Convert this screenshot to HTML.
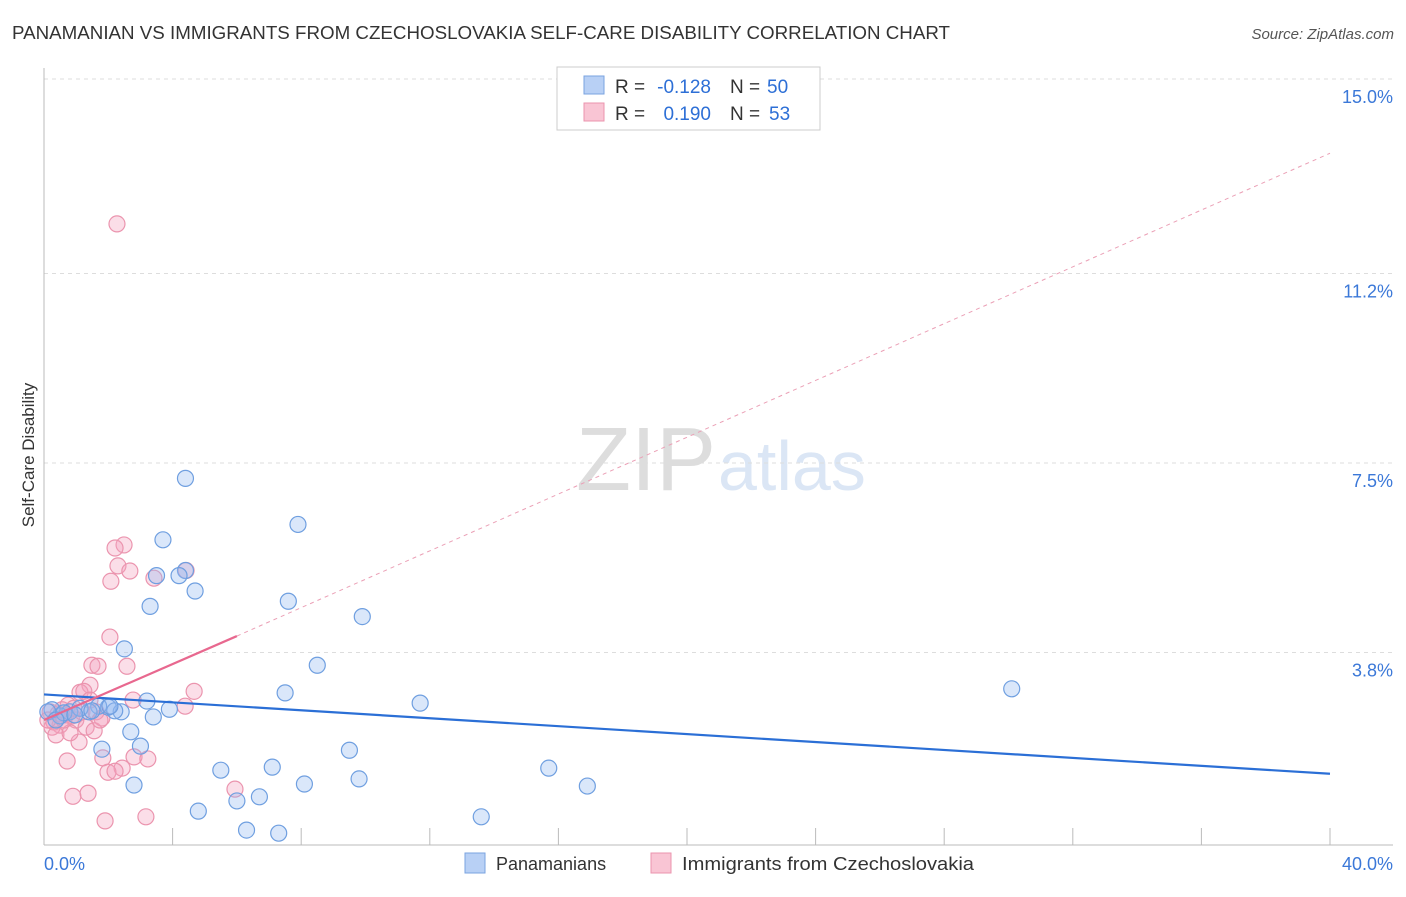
<!DOCTYPE html>
<html><head><meta charset="utf-8"><style>
body{margin:0;background:#fff;font-family:"Liberation Sans",sans-serif;}
svg text{font-family:"Liberation Sans",sans-serif;}
</style></head><body>
<svg id="chart" width="1406" height="892">
<text x="12" y="39" font-size="18" fill="#333" textLength="938" lengthAdjust="spacingAndGlyphs">PANAMANIAN VS IMMIGRANTS FROM CZECHOSLOVAKIA SELF-CARE DISABILITY CORRELATION CHART</text>
<text x="1394" y="39" font-size="15" fill="#555" text-anchor="end" font-style="italic">Source: ZipAtlas.com</text>
<text x="716" y="490" font-size="90" fill="#ddd" text-anchor="end" font-family="Liberation Serif">ZIP</text>
<text x="718" y="490" font-size="70" fill="#dbe6f5">atlas</text>
<g id="grid"></g>
<g id="axes"></g>
<g id="marks"></g>
<text transform="translate(34,455) rotate(-90)" font-size="17" fill="#333" text-anchor="middle">Self-Care Disability</text>
<g>
<rect x="557" y="67" width="263" height="63" fill="#fff" stroke="#ccc"/>
<rect x="584" y="76" width="20" height="18" fill="#b8d0f5" stroke="#7aa3e0"/>
<text x="615" y="93" font-size="19" fill="#333">R =</text>
<text x="711" y="93" font-size="19" fill="#2d6fd6" text-anchor="end">-0.128</text>
<text x="730" y="93" font-size="19" fill="#333">N =</text>
<text x="767" y="93" font-size="19" fill="#2d6fd6">50</text>
<rect x="584" y="103" width="20" height="18" fill="#f9c5d4" stroke="#eb94ae"/>
<text x="615" y="120" font-size="19" fill="#333">R =</text>
<text x="711" y="120" font-size="19" fill="#2d6fd6" text-anchor="end">0.190</text>
<text x="730" y="120" font-size="19" fill="#333">N =</text>
<text x="769" y="120" font-size="19" fill="#2d6fd6">53</text>
</g>
<g>
<rect x="465" y="853" width="20" height="20" fill="#b8d0f5" stroke="#7aa3e0"/>
<text x="496" y="870" font-size="18" fill="#333">Panamanians</text>
<rect x="651" y="853" width="20" height="20" fill="#f9c5d4" stroke="#eb94ae"/>
<text x="682" y="870" font-size="18" fill="#333" textLength="292" lengthAdjust="spacingAndGlyphs">Immigrants from Czechoslovakia</text>
</g>
</svg>
<script>
const yTicks=[3.8,7.5,11.2,15.0];
const yTickLabels=["3.8%","7.5%","11.2%","15.0%"];
const xTicks=[0,4,8,12,16,20,24,28,32,36,40];
const blueX=[4.4,7.9,3.7,4.4,4.2,3.5,4.7,7.6,3.3,9.9,2.5,8.5,30.1,7.5,3.2,11.7,3.9,3.4,2.0,2.4,2.2,1.7,1.4,0.8,0.5,0.25,0.12,2.7,3.0,1.8,9.5,5.5,7.1,15.7,9.8,8.1,2.8,16.9,6.0,6.7,4.8,13.6,6.3,7.3,0.62,1.12,1.49,0.37,0.96,2.05];
const blueY=[7.2,6.3,6.0,5.4,5.3,5.3,5.0,4.8,4.7,4.5,3.87,3.55,3.09,3.01,2.85,2.81,2.69,2.54,2.73,2.64,2.66,2.75,2.64,2.64,2.56,2.68,2.64,2.25,1.97,1.91,1.89,1.5,1.56,1.54,1.33,1.23,1.21,1.19,0.90,0.98,0.70,0.59,0.33,0.27,2.62,2.71,2.66,2.48,2.58,2.75];
const pinkX=[2.27,2.49,2.21,4.42,2.3,2.67,3.42,2.08,2.05,1.49,1.68,2.58,1.43,4.67,1.12,1.24,2.77,4.39,0.19,0.44,0.68,0.87,0.99,0.31,0.5,1.31,1.56,1.8,1.09,0.72,1.83,2.8,3.23,2.43,1.99,2.21,5.94,0.9,1.37,1.9,3.17,0.25,0.12,0.56,0.75,0.37,0.81,1.18,1.43,0.62,0.93,1.62,1.74];
const pinkY=[12.17,5.9,5.84,5.4,5.49,5.39,5.25,5.19,4.1,3.55,3.53,3.53,3.16,3.04,3.02,3.04,2.87,2.75,2.64,2.6,2.58,2.56,2.48,2.44,2.38,2.34,2.27,2.52,2.05,1.68,1.74,1.76,1.72,1.54,1.46,1.48,1.13,0.99,1.05,0.51,0.59,2.34,2.48,2.68,2.77,2.19,2.23,2.64,2.87,2.48,2.71,2.64,2.48];
const blueFit=[2.98,1.43];
const pinkFit=[2.48,4.12,13.55];
const pinkFitX=[0,6,40];
const X0=44,X1=1330,YB=847,PY=51.2;
const xs=v=>X0+(X1-X0)*v/40, ys=v=>YB-v*PY;
const NS="http://www.w3.org/2000/svg";
function mk(tag,attrs,parent){const e=document.createElementNS(NS,tag);for(const k in attrs)e.setAttribute(k,attrs[k]);document.getElementById(parent).appendChild(e);return e;}
yTicks.forEach((t,i)=>{
 const g=mk('line',{x1:X0,x2:1393,y1:ys(t),y2:ys(t),stroke:'#ddd','stroke-dasharray':'4,4'},'grid');
 
 
 const l=mk('text',{x:1393,y:ys(t)+24,'font-size':18,fill:'#3b78d8','text-anchor':'end'},'axes');
 l.textContent=yTickLabels[i];
 
 
});
const topGrid=mk('line',{x1:X0,x2:1393,y1:79,y2:79,stroke:'#ddd','stroke-dasharray':'4,4'},'grid');


const ya=mk('line',{x1:X0,x2:X0,y1:68,y2:845,stroke:'#bbb'},'axes');


const xa=mk('line',{x1:X0,x2:1393,y1:845,y2:845,stroke:'#bbb'},'axes');


xTicks.forEach(t=>{
 const tk=mk('line',{x1:xs(t),x2:xs(t),y1:828,y2:845,stroke:'#bbb'},'axes');
 
 
});
[[0,'0.0%','start',44],[40,'40.0%','end',1393]].forEach(a=>{
 const l=mk('text',{x:a[3],y:870,'font-size':18,fill:'#3b78d8','text-anchor':a[2]},'axes');
 l.textContent=a[1];
 
 
});
pinkX.forEach((x,i)=>{
 const c=mk('circle',{cx:xs(x),cy:ys(pinkY[i]),r:8,fill:'rgba(244,160,188,0.35)',stroke:'#eb94ae','stroke-width':1.2},'marks');
 
 
});
blueX.forEach((x,i)=>{
 const c=mk('circle',{cx:xs(x),cy:ys(blueY[i]),r:8,fill:'rgba(150,185,240,0.35)',stroke:'#6f9fe0','stroke-width':1.2},'marks');
 
 
});
const bl=mk('line',{x1:xs(0),y1:ys(blueFit[0]),x2:xs(40),y2:ys(blueFit[1]),stroke:'#2b6fd6','stroke-width':2.2},'marks');


const pl=mk('line',{x1:xs(pinkFitX[0]),y1:ys(pinkFit[0]),x2:xs(pinkFitX[1]),y2:ys(pinkFit[1]),stroke:'#e8688f','stroke-width':2.2},'marks');


const pd=mk('line',{x1:xs(pinkFitX[1]),y1:ys(pinkFit[1]),x2:xs(pinkFitX[2]),y2:ys(pinkFit[2]),stroke:'#eba0b6','stroke-width':1,'stroke-dasharray':'4,4'},'marks');


</script>
</body></html>
